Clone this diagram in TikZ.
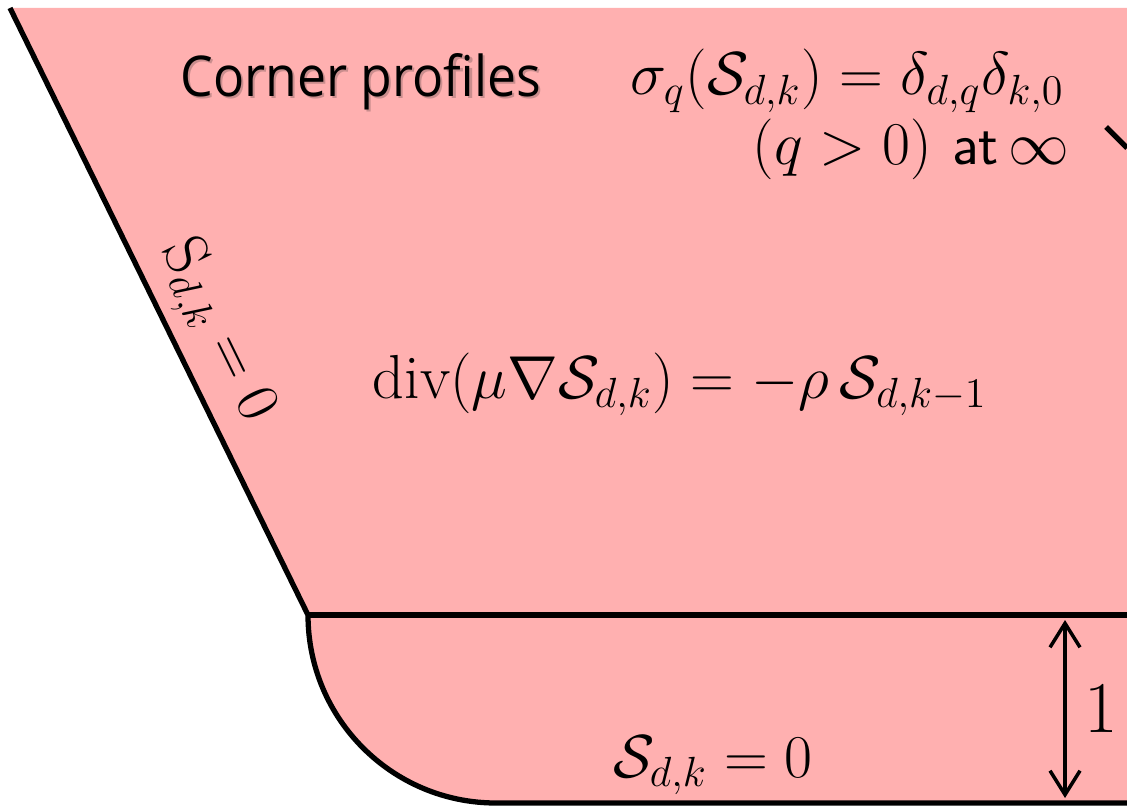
\documentclass[tikz,border=0pt]{standalone}
\usepackage{fontspec}
\newfontfamily\titlefont[FakeStretch=0.92]{Open Sans}
\usetikzlibrary{arrows.meta, positioning}
\definecolor{RegionPink}{HTML}{FFB0B0}
\definecolor{ShadowGray}{HTML}{7A5A5A}

\begin{document}
\begin{tikzpicture}[
  edge/.style={line width=1.5pt, black},
  dim/.style={{Straight Barb[length=2.4mm, width=3mm]}-{Straight Barb[length=2.4mm, width=3mm]},
    line width=1pt, shorten <=0.05cm, shorten >=0.05cm},
  eq/.style={anchor=base, inner sep=0pt, font=\fontsize{17.7}{21}\selectfont},
  title/.style={anchor=base, inner sep=0pt, font=\titlefont\fontsize{16}{19}\selectfont}
]
\useasboundingbox (0,0) rectangle (11.27,8.08);

% Domain
\coordinate (tl) at (0.10,8.00);
\coordinate (corner) at (3.08,1.93);
\coordinate (br) at (11.27,0.05);
\coordinate (mr) at (11.27,1.93);
\coordinate (tr) at (11.27,8.00);
\fill[RegionPink] (tl) -- (corner) arc[start angle=180, end angle=270, radius=1.88]
  -- (br) -- (tr) -- cycle;

% Boundaries
\draw[edge] (tl) -- (corner) arc[start angle=180, end angle=270, radius=1.88] -- (br);
\draw[edge] (corner) -- (mr);
\coordinate (cutstart) at (11.06,6.81);
\coordinate (cutend) at (11.27,6.60);
\draw[edge] (cutstart) -- (cutend);

% Texts
\node[title, text=ShadowGray, opacity=0.4] (titleshadow) at (3.63,7.09) {Corner profiles};
\node[title] (title) at (3.61,7.11) {Corner profiles};
\node[eq, anchor=base east] (flux) at (10.65,7.13)
  {$\sigma_q(\mathcal{S}_{d,k})=\delta_{d,q}\delta_{k,0}$};
\node[eq, anchor=base east, font=\fontsize{16.8}{20}\selectfont] (cond) at (10.70,6.43)
  {$(q>0)$\,\,\textsf{at}\,$\infty$};
\node[eq] (pde) at (6.80,4.10)
  {$\mathrm{div}(\mu\nabla\mathcal{S}_{d,k})=-\rho\,\mathcal{S}_{d,k-1}$};
\node[eq, anchor=center, rotate=-63.9] (wallbc) at (2.16,4.77) {$\mathrm{S}_{d,k}=0$};
\node[eq] (bottombc) at (7.13,0.31) {$\mathcal{S}_{d,k}=0$};

% Width of the strip
\coordinate (dimtop) at (10.65,1.93);
\coordinate (dimbot) at (10.65,0.05);
\draw[dim] (dimtop) -- node[eq, anchor=west, xshift=0.18cm,
  font=\fontsize{20}{24}\selectfont] (width) {$1$} (dimbot);

\end{tikzpicture}
\end{document}
